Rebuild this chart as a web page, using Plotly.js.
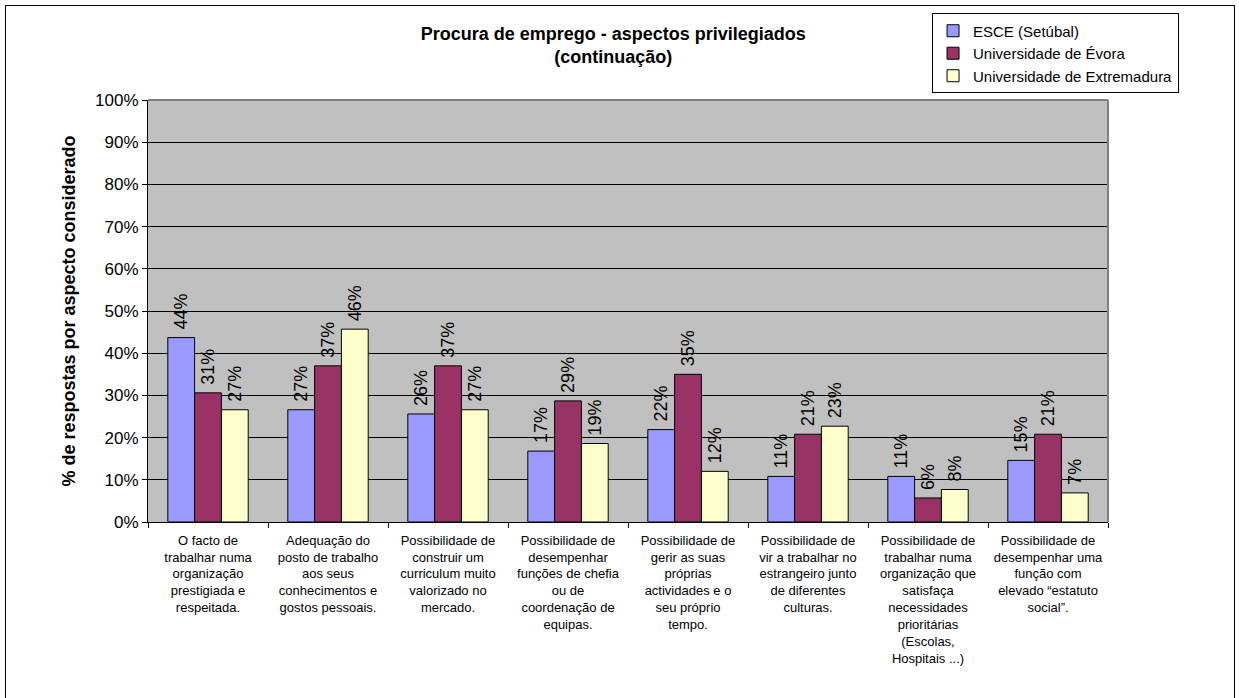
<!DOCTYPE html>
<html>
<head>
<meta charset="utf-8">
<script src="https://cdn.plot.ly/plotly-3.0.1.min.js"></script>
<style>
  html, body { margin: 0; padding: 0; background: #fff; }
  #wrap { position: relative; width: 1239px; height: 698px; }
  #chart { position: absolute; left: 0; top: 0; width: 1239px; height: 698px; }
  #frame { position: absolute; left: 5px; top: 5px; width: 1228px; height: 700px; border: 1px solid #000; pointer-events: none; }
</style>
</head>
<body>
<div id="wrap">
  <div id="chart"></div>
  <div id="frame"></div>
</div>
<script>
const categories = [
  "O facto de<br>trabalhar numa<br>organização<br>prestigiada e<br>respeitada.",
  "Adequação do<br>posto de trabalho<br>aos seus<br>conhecimentos e<br>gostos pessoais.",
  "Possibilidade de<br>construir um<br>curriculum muito<br>valorizado no<br>mercado.",
  "Possibilidade de<br>desempenhar<br>funções de chefia<br>ou de<br>coordenação de<br>equipas.",
  "Possibilidade de<br>gerir as suas<br>próprias<br>actividades e o<br>seu próprio<br>tempo.",
  "Possibilidade de<br>vir a trabalhar no<br>estrangeiro junto<br>de diferentes<br>culturas.",
  "Possibilidade de<br>trabalhar numa<br>organização que<br>satisfaça<br>necessidades<br>prioritárias<br>(Escolas,<br>Hospitais ...)",
  "Possibilidade de<br>desempenhar uma<br>função com<br>elevado \u201cestatuto<br>social\u201d."
];
const seriesNames = ["ESCE (Setúbal)", "Universidade de Évora", "Universidade de Extremadura"];
const esce        = [0.437, 0.266, 0.256, 0.168, 0.219, 0.108, 0.108, 0.146];
const evora       = [0.306, 0.370, 0.370, 0.287, 0.350, 0.208, 0.057, 0.208];
const extremadura = [0.266, 0.457, 0.266, 0.186, 0.120, 0.227, 0.077, 0.069];
const yTickVals = [0, 0.1, 0.2, 0.3, 0.4, 0.5, 0.6, 0.7, 0.8, 0.9, 1.0];

const colors = ["#9999FF", "#993366", "#FFFFCC"];
const FONT = "Liberation Sans, Arial, sans-serif";

const traces = [esce, evora, extremadura].map((vals, i) => ({
  type: "bar",
  name: seriesNames[i],
  x: categories,
  y: vals,
  marker: { color: colors[i], line: { color: "#000", width: 1 } },
  texttemplate: "\u00a0%{y:.0%}",
  textposition: "outside",
  textangle: -90,
  constraintext: "none",
  cliponaxis: false,
  textfont: { family: FONT, size: 18, color: "#000" },
  hoverinfo: "skip"
}));

const layout = {
  width: 1239,
  height: 698,
  margin: { l: 148, r: 131, t: 100, b: 176 },
  paper_bgcolor: "#fff",
  plot_bgcolor: "#C0C0C0",
  barmode: "group",
  bargap: 0.33,
  bargroupgap: 0,
  showlegend: true,
  title: {
    text: "<b>Procura de emprego - aspectos privilegiados<br>(continuação)</b>",
    font: { family: FONT, size: 18, color: "#000" },
    x: 0.495, xanchor: "center",
    y: 0.943, yanchor: "middle"
  },
  legend: {
    x: 0.8167, xanchor: "left",
    y: 1.205, yanchor: "top",
    bordercolor: "#000", borderwidth: 1,
    bgcolor: "#fff",
    font: { family: FONT, size: 15, color: "#000" },
    itemwidth: 30,
    tracegroupgap: 0
  },
  xaxis: {
    type: "category",
    tickson: "boundaries",
    ticks: "outside",
    ticklen: 5,
    tickcolor: "#000",
    showgrid: false,
    showline: true,
    linecolor: "#000",
    linewidth: 1,
    tickangle: 0,
    ticklabelstandoff: 6,
    tickfont: { family: FONT, size: 13, color: "#000" }
  },
  yaxis: {
    range: [0, 1],
    tickvals: yTickVals,
    tickformat: ".0%",
    ticks: "outside",
    ticklen: 5,
    tickcolor: "#000",
    showgrid: true,
    gridcolor: "#000",
    gridwidth: 1,
    zeroline: false,
    showline: true,
    linecolor: "#000",
    linewidth: 1,
    tickfont: { family: FONT, size: 17, color: "#000" },
    title: {
      text: "<b>% de respostas por aspecto considerado</b>",
      font: { family: FONT, size: 18, color: "#000" },
      standoff: 14
    }
  },
  shapes: [
    { type: "line", xref: "paper", yref: "paper", x0: 0, x1: 1, y0: 1, y1: 1, line: { color: "#808080", width: 2 }, layer: "above" },
    { type: "line", xref: "paper", yref: "paper", x0: 1, x1: 1, y0: 0, y1: 1, line: { color: "#808080", width: 2 }, layer: "above" }
  ]
};

Plotly.newPlot("chart", traces, layout, { displayModeBar: false, staticPlot: true });
</script>
</body>
</html>
